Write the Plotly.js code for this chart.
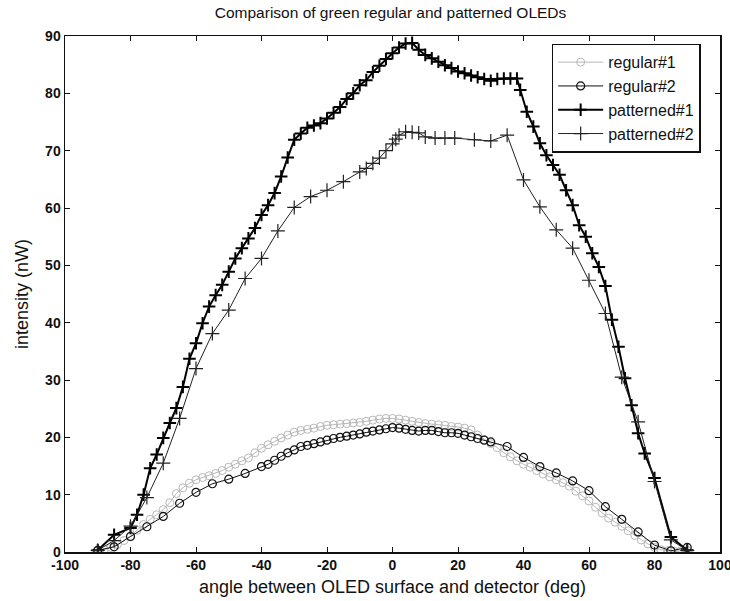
<!DOCTYPE html>
<html>
<head>
<meta charset="utf-8">
<script src="https://cdn.plot.ly/plotly-3.0.1.min.js"></script>
<style>html,body{margin:0;padding:0;background:#fff;}#chart{width:730px;height:601px;}</style>
</head>
<body>
<div id="chart"></div>
<script>
// ---- data ----
const reg1X = [-90,-88,-86,-84,-82,-80,-78,-76,-74,-72,-70,-68,-66,-64,-62,-60,-58,-56,-54,-52,-50,-48,-46,-44,-42,-40,-38,-36,-34,-32,-30,-28,-26,-24,-22,-20,-18,-16,-14,-12,-10,-8,-6,-4,-2,0,2,4,6,8,10,12,14,16,18,20,22,24,26,28,30,32,34,36,38,40,42,44,46,48,50,52,54,56,58,60,62,64,66,68,70,72,74,76,78,80,82,84,86,88,90];
const reg1Y = [0.2,0.4,0.8,1.3,2.0,2.8,3.8,4.8,5.7,6.5,7.4,8.6,10.2,11.2,12.0,12.6,13.0,13.3,13.7,14.2,14.8,15.3,15.9,16.4,17.3,18.1,18.7,19.3,19.9,20.4,20.9,21.2,21.4,21.6,21.9,22.1,22.2,22.3,22.4,22.5,22.6,22.8,23.0,23.2,23.3,23.3,23.2,23.0,22.8,22.6,22.4,22.3,22.2,22.1,21.9,21.8,21.6,21.3,20.4,19.6,18.9,18.2,17.3,16.6,15.9,15.3,14.8,14.2,13.6,13.1,12.6,12.1,11.5,10.6,9.8,8.9,7.8,6.8,5.9,5.2,4.5,3.7,2.9,2.1,1.4,0.8,0.4,0.2,0.1,0.2,0.3];

const reg2X = [-90,-85,-80,-75,-70,-65,-60,-55,-50,-45,-40,-38,-36,-34,-32,-30,-28,-26,-24,-22,-20,-18,-16,-14,-12,-10,-8,-6,-4,-2,0,2,4,6,8,10,12,14,16,18,20,22,24,26,28,30,35,40,45,50,55,60,65,70,75,80,85,90];
const reg2Y = [0.3,0.9,2.7,4.4,6.2,8.5,10.4,11.9,12.7,13.7,14.9,15.3,16.0,16.7,17.3,17.8,18.4,18.6,18.9,19.2,19.5,19.8,20.0,20.2,20.4,20.6,20.9,21.1,21.3,21.5,21.7,21.6,21.4,21.2,21.1,21.2,21.2,21.0,20.8,20.8,20.7,20.4,20.1,19.8,19.5,19.2,18.4,16.5,14.9,13.8,12.4,10.7,7.9,5.7,3.5,1.2,0.2,0.8];

const pat1X = [-90,-85,-80,-78,-76,-74,-72,-70,-68,-66,-64,-62,-60,-58,-56,-54,-52,-50,-48,-46,-44,-42,-40,-38,-36,-34,-32,-30,-28,-26,-24,-22,-20,-18,-16,-14,-12,-10,-8,-6,-4,-2,0,2,4,6,8,10,12,14,16,18,20,22,24,26,28,30,32,34,36,38,39,41,43,45,47,49,51,53,55,57,59,61,63,65,67,69,71,73,75,77,80,85,90];
const pat1Y = [0.3,3.0,4.2,6.5,10.0,14.6,17.0,19.9,22.5,25.1,28.8,33.7,36.4,39.9,42.8,44.8,46.6,48.9,51.2,53.0,54.7,56.5,58.8,60.5,62.6,65.5,68.8,71.9,73.0,74.0,74.4,74.8,75.6,76.6,77.6,79.0,80.0,81.4,82.3,83.7,84.8,86.0,87.0,88.0,88.7,88.8,87.6,86.7,86.1,85.5,84.9,84.4,83.8,83.5,83.1,82.8,82.5,82.2,82.5,82.6,82.6,82.6,80.6,76.8,74.2,71.3,69.2,67.5,65.8,63.1,60.5,57.0,55.0,52.1,49.7,46.4,40.5,35.8,30.3,25.6,20.7,17.2,12.9,2.6,0.3];

const pat2X = [-90,-85,-80,-75,-70,-65,-60,-55,-50,-45,-40,-35,-30,-25,-20,-15,-10,-8,-6,-4,-2,0,1,2,4,6,8,10,13,16,19,25,30,35,40,45,50,55,60,65,70,75,80,85,90];
const pat2Y = [0.3,2.0,4.5,9.5,15.5,23.3,32.0,38.1,42.2,47.7,51.2,56.0,60.1,62.0,63.1,64.6,66.3,66.9,67.8,68.7,70.0,71.2,72.0,72.7,73.3,73.2,73.1,72.4,72.2,72.2,72.2,71.9,71.7,72.7,64.9,60.2,56.2,53.0,47.4,41.6,30.5,22.7,12.3,2.1,0.3];

const seriesNames = ['regular#1','regular#2','patterned#1','patterned#2'];
const xTicks = [-100,-80,-60,-40,-20,0,20,40,60,80,100];
const yTicks = [0,10,20,30,40,50,60,70,80,90];

const FONT = 'Liberation Sans, Arial, sans-serif';

const traces = [
  {x: reg1X, y: reg1Y, name: seriesNames[0], mode: 'lines+markers', type: 'scatter',
   line: {color: '#b8b8b8', width: 1},
   marker: {symbol: 'circle-open', size: 8, color: '#b8b8b8', line: {width: 1, color: '#b8b8b8'}}},
  {x: reg2X, y: reg2Y, name: seriesNames[1], mode: 'lines+markers', type: 'scatter',
   line: {color: '#111', width: 1},
   marker: {symbol: 'circle-open', size: 8, color: '#111', line: {width: 1.2, color: '#111'}}},
  {x: pat1X, y: pat1Y, name: seriesNames[2], mode: 'lines+markers', type: 'scatter',
   line: {color: '#000', width: 2},
   marker: {symbol: 'cross-thin-open', size: 9, color: '#000', line: {width: 2, color: '#000'}}},
  {x: pat2X, y: pat2Y, name: seriesNames[3], mode: 'lines+markers', type: 'scatter',
   line: {color: '#222', width: 1},
   marker: {symbol: 'cross-thin-open', size: 10, color: '#222', line: {width: 1.2, color: '#222'}}}
];

const layout = {
  width: 730, height: 601,
  paper_bgcolor: '#fff', plot_bgcolor: '#fff',
  margin: {l: 65, r: 10, t: 36, b: 49},
  font: {family: FONT, size: 13, color: '#111'},
  title: {text: 'Comparison of green regular and patterned OLEDs', x: 0.535, xanchor: 'center', y: 0.988, yanchor: 'top',
          font: {family: FONT, size: 15.5, color: '#111'}},
  showlegend: true,
  legend: {x: 0.743, xanchor: 'left', y: 0.985, yanchor: 'top', bgcolor: '#fff', bordercolor: '#111', borderwidth: 1.5,
           font: {family: FONT, size: 16, color: '#111'}, itemwidth: 45, tracegroupgap: 0},
  xaxis: {range: [-100, 100], tickvals: xTicks, ticktext: xTicks.map(String), ticks: 'inside', ticklen: 5, tickcolor: '#111',
          showline: true, linecolor: '#111', linewidth: 1.5, mirror: 'ticks', showgrid: false, zeroline: false,
          ticklabeloverflow: 'allow',
          tickfont: {family: FONT, size: 14, color: '#111', weight: 'bold'},
          title: {text: 'angle between OLED surface and detector (deg)', standoff: 8, font: {family: FONT, size: 18, color: '#111'}}},
  yaxis: {range: [0, 90], tickvals: yTicks, ticktext: yTicks.map(String), ticks: 'inside', ticklen: 5, tickcolor: '#111',
          showline: true, linecolor: '#111', linewidth: 1.5, mirror: 'ticks', showgrid: false, zeroline: false,
          ticklabeloverflow: 'allow',
          tickfont: {family: FONT, size: 14, color: '#111', weight: 'bold'},
          title: {text: 'intensity (nW)', standoff: 12, font: {family: FONT, size: 18, color: '#111'}}}
};

Plotly.newPlot('chart', traces, layout, {displayModeBar: false, staticPlot: true});
</script>
</body>
</html>
